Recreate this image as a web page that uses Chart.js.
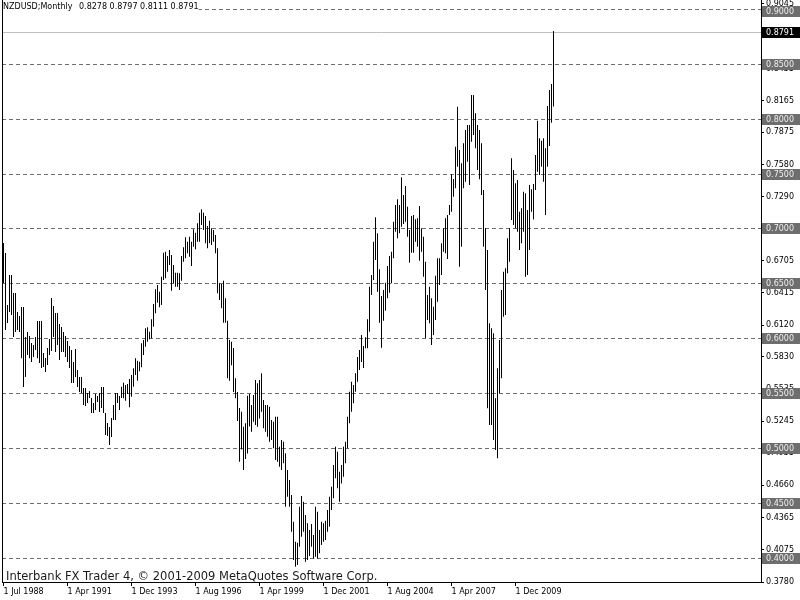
<!DOCTYPE html>
<html><head><meta charset="utf-8">
<script src="https://cdn.jsdelivr.net/npm/chart.js@4.4.1/dist/chart.umd.min.js"></script>
<style>html,body{margin:0;padding:0;background:#fff}#wrap{width:800px;height:600px;position:relative}canvas{display:block}</style>
</head><body><div id="wrap"><canvas id="c" width="800" height="600"></canvas></div>
<script>
// Monthly NZDUSD bars (high / low), oldest first
const highs = [
0.6867,0.6776,0.6302,0.6576,0.6576,0.6412,0.6412,0.6239,0.6202,0.6284,
0.6284,0.6011,0.6056,0.6020,0.5956,0.5938,0.6011,0.6157,0.6157,0.6157,
0.5865,0.5820,0.5911,0.5993,0.6366,0.6293,0.6229,0.6229,0.6129,0.6102,
0.6056,0.6020,0.5974,0.5929,0.5893,0.5783,0.5902,0.5710,0.5647,0.5647,
0.5546,0.5546,0.5501,0.5519,0.5455,0.5410,0.5492,0.5474,0.5501,0.5556,
0.5556,0.5319,0.5228,0.5191,0.5273,0.5392,0.5501,0.5501,0.5474,0.5558,
0.5595,0.5574,0.5583,0.5628,0.5665,0.5726,0.5817,0.5795,0.5786,0.5954,
0.5984,0.6090,0.6099,0.6060,0.6172,0.6311,0.6445,0.6484,0.6423,0.6560,
0.6779,0.6788,0.6749,0.6803,0.6758,0.6667,0.6597,0.6597,0.6591,0.6749,
0.6828,0.6919,0.6879,0.6924,0.6879,0.6992,0.6961,0.7046,0.7143,0.7174,
0.7143,0.7113,0.7022,0.7070,0.7001,0.6985,0.6940,0.6819,0.6500,0.6494,
0.6524,0.6363,0.6159,0.5984,0.5968,0.5911,0.5635,0.5510,0.5364,0.5331,
0.5194,0.5225,0.5475,0.5492,0.5392,0.5483,0.5619,0.5589,0.5619,0.5680,
0.5437,0.5392,0.5392,0.5376,0.5255,0.5240,0.5285,0.5285,0.5012,0.5073,
0.5057,0.4952,0.4800,0.4709,0.4572,0.4329,0.4147,0.4138,0.4465,0.4563,
0.4511,0.4390,0.4314,0.4253,0.4308,0.4208,0.4465,0.4420,0.4253,0.4329,
0.4314,0.4338,0.4435,0.4556,0.4648,0.4845,0.5012,0.4966,0.4784,0.4845,
0.5012,0.5057,0.5285,0.5513,0.5604,0.5574,0.5680,0.5830,0.5893,0.6029,
0.5929,0.6008,0.6172,0.6469,0.6576,0.6879,0.7101,0.6955,0.6628,0.6384,
0.6439,0.6505,0.6658,0.6749,0.6788,0.7061,0.7213,0.7265,0.7213,0.7465,
0.7304,0.7386,0.7198,0.6985,0.7113,0.7122,0.7083,0.7092,0.7204,0.7001,
0.6924,0.6697,0.6393,0.6469,0.6363,0.6287,0.6569,0.6728,0.6728,0.6864,
0.7001,0.7092,0.7122,0.7213,0.7493,0.7450,0.7744,0.8108,0.7713,0.7593,
0.7775,0.7896,0.7942,0.7942,0.8215,0.8215,0.8048,0.7942,0.7896,0.7775,
0.7350,0.7001,0.6803,0.6136,0.6090,0.6045,0.5453,0.5726,0.5984,0.6439,
0.6606,0.6637,0.6910,0.7001,0.7638,0.7532,0.7411,0.7441,0.7152,0.7183,
0.7334,0.7320,0.7168,0.7395,0.7356,0.7405,0.7669,0.7981,0.7821,0.7799,
0.7821,0.7730,0.8115,0.8260,0.8315,0.8797
];
const lows = [
0.6503,0.6075,0.6138,0.6239,0.6211,0.6010,0.6056,0.6075,0.6056,0.5818,
0.5556,0.5647,0.5847,0.5818,0.5783,0.5829,0.5893,0.5818,0.5774,0.5728,
0.5738,0.5692,0.5756,0.5847,0.5884,0.6011,0.5875,0.5938,0.5801,0.5875,
0.5875,0.5829,0.5783,0.5728,0.5592,0.5592,0.5647,0.5556,0.5510,0.5501,
0.5392,0.5383,0.5410,0.5455,0.5319,0.5319,0.5346,0.5419,0.5328,0.5364,
0.5319,0.5118,0.5109,0.5027,0.5100,0.5255,0.5255,0.5410,0.5346,0.5455,
0.5453,0.5431,0.5492,0.5371,0.5467,0.5558,0.5665,0.5613,0.5700,0.5735,
0.5847,0.5923,0.5968,0.5990,0.5999,0.6105,0.6227,0.6323,0.6281,0.6302,
0.6530,0.6546,0.6606,0.6667,0.6433,0.6500,0.6469,0.6469,0.6439,0.6524,
0.6697,0.6728,0.6773,0.6742,0.6658,0.6833,0.6810,0.6879,0.6879,0.7031,
0.6985,0.6864,0.6819,0.6864,0.6849,0.6879,0.6773,0.6409,0.6348,0.6272,
0.6141,0.6141,0.5635,0.5613,0.5754,0.5510,0.5453,0.5246,0.4875,0.4987,
0.4800,0.4900,0.4950,0.5195,0.5148,0.5240,0.5209,0.5194,0.5270,0.5331,
0.5179,0.5148,0.5103,0.5057,0.5073,0.4997,0.4891,0.4875,0.4830,0.4800,
0.4861,0.4465,0.4556,0.4465,0.4238,0.3980,0.3919,0.3934,0.4101,0.4192,
0.4238,0.3965,0.3980,0.4016,0.4101,0.3995,0.4010,0.3995,0.4041,0.4117,
0.4147,0.4162,0.4238,0.4283,0.4435,0.4542,0.4724,0.4633,0.4511,0.4678,
0.4739,0.4861,0.4997,0.5225,0.5331,0.5407,0.5513,0.5604,0.5710,0.5783,
0.5729,0.5908,0.5908,0.6059,0.6393,0.6530,0.6712,0.6423,0.6141,0.5913,
0.6159,0.6250,0.6363,0.6414,0.6500,0.6728,0.6970,0.6910,0.6955,0.7016,
0.7040,0.7061,0.6924,0.6688,0.6779,0.6779,0.6879,0.6833,0.6706,0.6788,
0.6560,0.5999,0.6166,0.6136,0.5938,0.6029,0.6166,0.6332,0.6485,0.6576,
0.6788,0.6773,0.6721,0.7122,0.7152,0.7289,0.7365,0.7562,0.6651,0.6833,
0.7365,0.7425,0.7608,0.7395,0.7790,0.7851,0.7730,0.7532,0.7447,0.7304,
0.6833,0.6439,0.5362,0.5209,0.5209,0.5073,0.4982,0.4906,0.5498,0.5635,
0.6196,0.6211,0.6591,0.6697,0.7077,0.7031,0.7001,0.6970,0.6803,0.6864,
0.6970,0.6560,0.6576,0.6803,0.7152,0.7080,0.7350,0.7516,0.7486,0.7562,
0.7425,0.7122,0.7562,0.7750,0.7963,0.8111
];
const barIndex = highs.map((_, i) => i);
const dateTickIndex = [0, 32, 64, 96, 128, 160, 192, 224, 256];
const dateTickLabels = ['1 Jul 1988','1 Apr 1991','1 Dec 1993','1 Aug 1996','1 Apr 1999','1 Dec 2001','1 Aug 2004','1 Apr 2007','1 Dec 2009'];
const priceTickLabels = ['0.3780','0.4075','0.4365','0.4660','0.4955','0.5245','0.5535','0.5830','0.6120','0.6415','0.6705','0.7000','0.7290','0.7580','0.7875','0.8165','0.8455','0.8750','0.9045'];
const levelLines = [0.40, 0.45, 0.50, 0.55, 0.60, 0.65, 0.70, 0.75, 0.80, 0.85, 0.90];
const currentPrice = 0.8791;
const headerSymbol = 'NZDUSD;Monthly';
const headerOHLC = ['0.8278', '0.8797', '0.8111', '0.8791'];
const copyrightText = 'Interbank FX Trader 4, \u00A9 2001-2009 MetaQuotes Software Corp.';

const SMALL = '8px "DejaVu Sans"';

const overlay = {
  id: 'overlay',
  beforeDatasetsDraw(chart) {
    const {ctx, chartArea: ca, scales: {y}} = chart;
    ctx.save();
    ctx.lineWidth = 1;
    ctx.strokeStyle = '#6e6e6e';
    ctx.setLineDash([4, 3]);
    levelLines.forEach(v => {
      const py = Math.round(y.getPixelForValue(v)) + 0.5;
      ctx.beginPath(); ctx.moveTo(ca.left, py); ctx.lineTo(ca.right, py); ctx.stroke();
    });
    ctx.setLineDash([]);
    ctx.strokeStyle = '#c0c0c0';
    const cy = Math.round(y.getPixelForValue(currentPrice)) + 0.5;
    ctx.beginPath(); ctx.moveTo(ca.left, cy); ctx.lineTo(ca.right, cy); ctx.stroke();
    ctx.restore();
  },
  afterDraw(chart) {
    const {ctx, chartArea: ca, scales: {y}} = chart;
    ctx.save();
    // left frame
    ctx.strokeStyle = '#000'; ctx.lineWidth = 1;
    ctx.beginPath(); ctx.moveTo(ca.left + 0.5, ca.top); ctx.lineTo(ca.left + 0.5, ca.bottom); ctx.stroke();
    // header
    ctx.font = SMALL; ctx.textBaseline = 'alphabetic'; ctx.textAlign = 'left';
    const hdr2 = headerOHLC.join(' ');
    const w2 = ctx.measureText(hdr2).width;
    ctx.fillStyle = '#fff';
    ctx.fillRect(3, 0, 76 + w2 + 3 - 3, 10);
    ctx.fillStyle = '#000';
    ctx.fillText(headerSymbol, 3, 9);
    ctx.fillText(hdr2, 79, 9);
    // copyright
    ctx.font = '11.5px "DejaVu Sans"';
    ctx.fillStyle = '#1a1a1a';
    ctx.fillText(copyrightText, 6, 580);
    // price labels of level lines
    ctx.font = SMALL; ctx.textBaseline = 'middle';
    const bx = ca.right + 1;
    levelLines.forEach(v => {
      const py = Math.round(y.getPixelForValue(v));
      const top = Math.max(py - 5, 6);
      ctx.fillStyle = '#6e6e6e';
      ctx.fillRect(bx, top, 800 - bx, 11);
      ctx.fillStyle = '#f0f0f0';
      ctx.fillText(v.toFixed(4), 766, top + 5.5);
    });
    const cy = Math.round(y.getPixelForValue(currentPrice));
    ctx.fillStyle = '#000';
    ctx.fillRect(bx, cy - 5, 800 - bx, 11);
    ctx.fillStyle = '#fff';
    ctx.fillText(currentPrice.toFixed(4), 766, cy + 0.5);
    ctx.restore();
  }
};

new Chart(document.getElementById('c'), {
  type: 'bar',
  data: {
    datasets: [{
      data: barIndex.map(i => ({x: i, y: [lows[i], highs[i]]})),
      backgroundColor: '#000',
      borderWidth: 0,
      barThickness: 1,
      inflateAmount: 0
    }]
  },
  options: {
    responsive: false,
    animation: false,
    devicePixelRatio: 1,
    events: [],
    layout: {padding: {left: 2, top: 0, right: 0, bottom: 0}},
    plugins: {legend: {display: false}, tooltip: {enabled: false}},
    scales: {
      x: {
        type: 'linear',
        min: -0.75, max: 378.75,
        offset: false,
        position: 'bottom',
        afterBuildTicks: s => { s.ticks = dateTickIndex.map(v => ({value: v})); },
        afterFit: s => { s.height = 18; s.paddingLeft = 0; s.paddingRight = 0; },
        ticks: {
          autoSkip: false, maxRotation: 0, minRotation: 0, align: 'start',
          color: '#000', font: {family: 'DejaVu Sans', size: 8}, padding: 1,
          callback: (v, i) => dateTickLabels[i]
        },
        grid: {display: true, drawOnChartArea: false, drawTicks: true, tickLength: 4, color: '#000', offset: false},
        border: {display: true, color: '#000', width: 1}
      },
      y: {
        type: 'linear',
        position: 'right',
        min: 0.378, max: 0.908,
        afterBuildTicks: s => { s.ticks = priceTickLabels.map(t => ({value: parseFloat(t)})); },
        afterFit: s => { s.width = 39; s.paddingTop = 0; s.paddingBottom = 0; },
        ticks: {
          autoSkip: false, color: '#000', font: {family: 'DejaVu Sans', size: 8}, padding: 2,
          callback: (v, i) => priceTickLabels[i]
        },
        grid: {display: true, drawOnChartArea: false, drawTicks: true, tickLength: 3, color: '#000'},
        border: {display: true, color: '#000', width: 1}
      }
    }
  },
  plugins: [overlay]
});
</script>
</body></html>
